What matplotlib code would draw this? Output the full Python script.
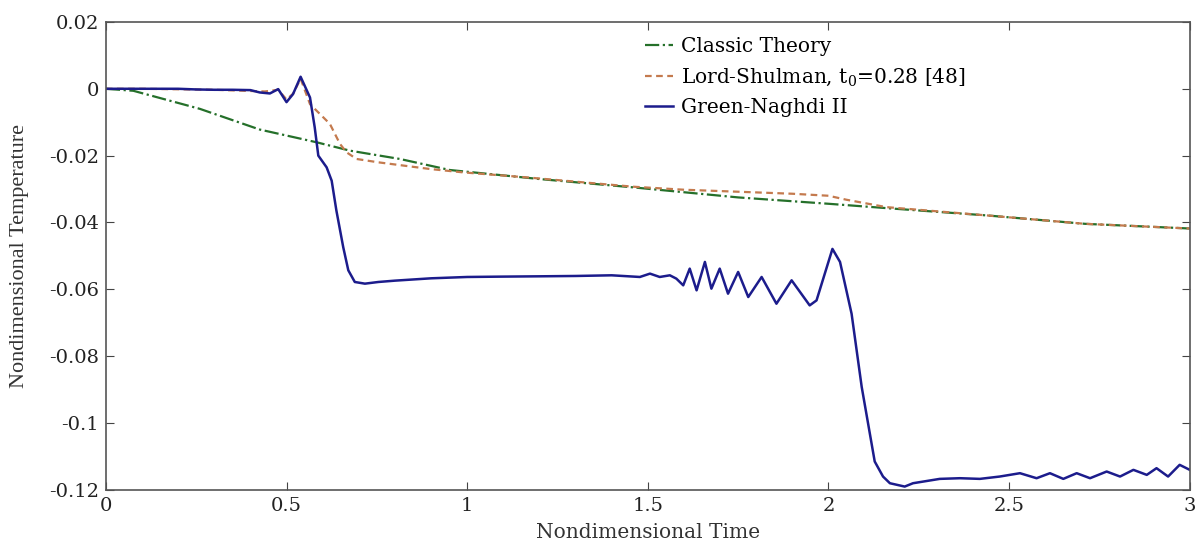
import matplotlib.pyplot as plt

plt.rcParams['font.family'] = ['DejaVu Serif']
plt.rcParams['axes.unicode_minus'] = False
plt.rcParams['mathtext.fontset'] = 'custom'
plt.rcParams['mathtext.rm'] = 'DejaVu Serif'

# Classic theory (green dash-dot)
classic_t = [0.0, 0.076, 0.26, 0.426, 0.583, 0.675, 0.758, 0.814, 0.952, 1.2, 1.46,
             1.75, 2.0, 2.16, 2.44, 2.71, 3.0]
classic_T = [0.0, -0.0006, -0.006, -0.0122, -0.016, -0.0185, -0.02, -0.021, -0.0243, -0.027, -0.0295,
             -0.0325, -0.0344, -0.0357, -0.0379, -0.0404, -0.0418]

# Lord-Shulman (brown dashed)
ls_t = [0.0, 0.1, 0.3, 0.44, 0.477, 0.5, 0.518, 0.539, 0.565, 0.62, 0.648, 0.666,
        0.694, 0.754, 0.897, 0.988, 1.164, 1.46, 1.6, 1.75, 1.9, 2.0, 2.05,
        2.16, 2.44, 2.71, 3.0]
ls_T = [0.0, 0.0, -0.0003, -0.0008, -0.0003, -0.0032, -0.0015, 0.003, -0.0046, -0.0105, -0.0165, -0.019,
        -0.021, -0.022, -0.024, -0.025, -0.0265, -0.0293, -0.0302, -0.0308, -0.0314, -0.032, -0.0332,
        -0.0354, -0.0379, -0.0404, -0.0418]

# Green-Naghdi II (blue solid)
gn_t = [0.0, 0.1, 0.2, 0.25, 0.3, 0.35, 0.4, 0.426, 0.454, 0.477, 0.5, 0.518, 0.539,
        0.565, 0.578, 0.588, 0.611, 0.625, 0.638, 0.657, 0.671, 0.689, 0.717, 0.754, 0.8,
        0.9, 1.0, 1.09, 1.2, 1.3, 1.4, 1.478, 1.506, 1.533, 1.561, 1.579, 1.598, 1.616,
        1.635, 1.658, 1.676, 1.699, 1.722, 1.75, 1.778, 1.815, 1.856, 1.898, 1.948, 1.967,
        2.011, 2.032, 2.064, 2.092, 2.128, 2.151, 2.17, 2.211, 2.234, 2.308, 2.364, 2.419,
        2.474, 2.53, 2.576, 2.613, 2.65, 2.687, 2.724, 2.77, 2.807, 2.844, 2.881, 2.908,
        2.94, 2.972, 3.0]
gn_T = [0.0, 0.0, 0.0, -0.0002, -0.0003, -0.0003, -0.0004, -0.0011, -0.0014, -0.0001, -0.004, -0.0016, 0.0036,
        -0.0026, -0.0115, -0.02, -0.0235, -0.0275, -0.0364, -0.0474, -0.0543, -0.0578, -0.0583, -0.0578, -0.0574,
        -0.0567, -0.0563, -0.0562, -0.0561, -0.056, -0.0558, -0.0563, -0.0553, -0.0563, -0.0558, -0.0568, -0.0588, -0.0538,
        -0.0603, -0.0518, -0.0598, -0.0538, -0.0613, -0.0548, -0.0623, -0.0563, -0.0643, -0.0573, -0.0648, -0.0633,
        -0.0479, -0.0518, -0.0673, -0.0892, -0.1115, -0.116, -0.118, -0.119, -0.118, -0.1167, -0.1165, -0.1167,
        -0.116, -0.115, -0.1165, -0.115, -0.1167, -0.115, -0.1165, -0.1145, -0.116, -0.114, -0.1155, -0.1135,
        -0.116, -0.1125, -0.114]

x_ticks = [0, 0.5, 1, 1.5, 2, 2.5, 3]
x_tick_labels = ['0', '0.5', '1', '1.5', '2', '2.5', '3']
y_ticks = [0.02, 0, -0.02, -0.04, -0.06, -0.08, -0.1, -0.12]
y_tick_labels = ['0.02', '0', '-0.02', '-0.04', '-0.06', '-0.08', '-0.1', '-0.12']

fig = plt.figure(figsize=(12.03, 5.48), dpi=100)
ax = fig.add_axes([0.088, 0.106, 0.901, 0.854])

ax.plot(classic_t, classic_T, color='#25702a', linestyle='-.', linewidth=1.6, label='Classic Theory')
ax.plot(ls_t, ls_T, color='#c47a4e', linestyle=(0, (3, 2)), linewidth=1.6,
        label=r'Lord-Shulman, t$_{\mathregular{0}}$=0.28 [48]')
ax.plot(gn_t, gn_T, color='#1c1c8c', linestyle='-', linewidth=1.8, label='Green-Naghdi II')

ax.set_xlim(0, 3)
ax.set_ylim(-0.12, 0.02)
ax.set_xticks(x_ticks)
ax.set_xticklabels(x_tick_labels)
ax.set_yticks(y_ticks)
ax.set_yticklabels(y_tick_labels)
ax.tick_params(direction='in', top=True, right=True, labelsize=14, length=6,
               color='#444444', labelcolor='#222222', pad=5)
for s in ax.spines.values():
    s.set_color('#555555')
    s.set_linewidth(1.2)

ax.set_xlabel('Nondimensional Time', fontsize=14.5, color='#333333', labelpad=6)
ax.set_ylabel('Nondimensional Temperature', fontsize=16, color='#333333',
              family='Liberation Serif')
ax.yaxis.set_label_coords(-0.071, 0.5)

ax.legend(loc='upper left', bbox_to_anchor=(0.481, 1.006), frameon=False, fontsize=14.5,
          handlelength=1.35, handletextpad=0.4, labelspacing=0.5)

fig.savefig('out.png', dpi=100)
